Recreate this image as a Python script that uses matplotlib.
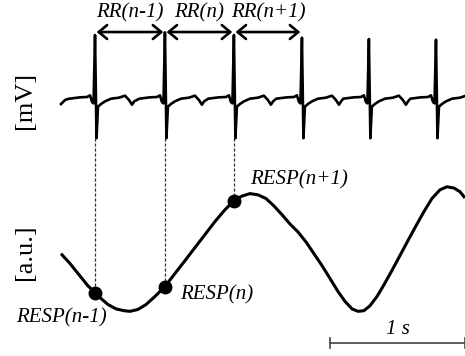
"""
ECG の R ピークと呼吸信号の対応図を再現する。
"""

import numpy as np
import matplotlib

matplotlib.use("Agg")
import matplotlib.pyplot as plt

plt.rcParams["font.family"] = ["Liberation Serif", "DejaVu Serif"]

# R ピーク時刻 [s] と振幅 [mV]
r_times = [0.252, 0.770, 1.281, 1.785, 2.281, 2.778]
r_amps = [0.97, 1.01, 0.97, 0.93, 0.91, 0.90]
s_amp = -0.57

# 1 拍分の波形 (R ピークからの相対時刻 [s], 電位 [mV])、R は None
beat_dt = [-0.19, -0.111, -0.059, -0.037, -0.022, -0.011, 0.0, 0.011,
           0.022, 0.044, 0.074, 0.119, 0.178, 0.222, 0.252, 0.274, 0.29]
beat_mv = [0.02, 0.04, 0.045, 0.07, -0.03, -0.05, None, s_amp,
           -0.10, -0.06, -0.02, 0.02, 0.035, 0.065, 0.0, -0.07, -0.02]
lead_t = [0.0, 0.03, 0.05]
lead_mv = [-0.06, 0.0, 0.015]

# 呼吸信号 [s], [a.u.]
resp_t = [0.000, 0.067, 0.141, 0.200, 0.244, 0.289, 0.348, 0.407, 0.467, 0.511,
          0.570, 0.630, 0.696, 0.770, 0.844, 0.919, 0.993, 1.067, 1.141, 1.215,
          1.289, 1.341, 1.400, 1.459, 1.519, 1.578, 1.637, 1.696, 1.756, 1.815,
          1.874, 1.933, 1.993, 2.052, 2.104, 2.156, 2.200, 2.244, 2.289, 2.341,
          2.393, 2.452, 2.511, 2.570, 2.630, 2.689, 2.748, 2.807, 2.859, 2.911,
          2.956, 2.993]
resp_v = [-0.08, -0.24, -0.44, -0.60, -0.69, -0.79, -0.90, -0.97, -1.00, -1.01,
          -0.98, -0.90, -0.77, -0.61, -0.40, -0.19, 0.02, 0.23, 0.44, 0.63,
          0.79, 0.85, 0.89, 0.87, 0.81, 0.69, 0.55, 0.40, 0.27, 0.11,
          -0.08, -0.27, -0.48, -0.69, -0.85, -0.97, -1.01, -1.00, -0.92, -0.77,
          -0.58, -0.35, -0.11, 0.13, 0.37, 0.60, 0.81, 0.95, 1.00, 0.98,
          0.92, 0.82]

rr_labels = ["RR(n-1)", "RR(n)", "RR(n+1)"]
resp_labels = ["RESP(n-1)", "RESP(n)", "RESP(n+1)"]
scale_len = 1.0  # s

# 配置
RESP_OFFSET = -2.22
RESP_SCALE = 0.925
ARROW_Y = 1.015


def build_ecg():
    t = list(lead_t)
    v = list(lead_mv)
    for rt, ra in zip(r_times, r_amps):
        for dt, mv in zip(beat_dt, beat_mv):
            t.append(rt + dt)
            v.append(ra if mv is None else mv)
    return np.array(t), np.array(v)


def main():
    fig = plt.figure(figsize=(4.65, 3.56), dpi=100)
    ax = fig.add_axes([0, 0, 1, 1])
    ax.set_xlim(-0.452, 2.993)
    ax.set_ylim(-3.821, 1.493)
    ax.axis("off")

    ecg_t, ecg_v = build_ecg()
    ax.plot(ecg_t, ecg_v, color="black", lw=1.9, solid_joinstyle="round")

    rt = np.array(resp_t)
    rv = RESP_OFFSET + RESP_SCALE * np.array(resp_v)
    ax.plot(rt, rv, color="black", lw=2.2, solid_capstyle="butt")

    # R ピーク位置の呼吸値
    pts_t = np.array(r_times[:3])
    pts_v = np.interp(pts_t, rt, rv)
    for x, y in zip(pts_t, pts_v):
        ax.plot([x, x], [s_amp, y], color="#333333", lw=0.9,
                linestyle=(0, (2.5, 1.5)))
    ax.plot(pts_t, pts_v, "o", color="black", ms=9, zorder=5)

    # RR 区間の矢印
    for i, lab in enumerate(rr_labels):
        x0, x1 = r_times[i], r_times[i + 1]
        ax.annotate("", xy=(x1, ARROW_Y), xytext=(x0, ARROW_Y),
                    arrowprops=dict(arrowstyle="<->,head_length=0.6,head_width=0.5",
                                    lw=1.9, color="black", mutation_scale=10,
                                    shrinkA=1.2, shrinkB=1.2))
        ax.text((x0 + x1) / 2, 1.30, lab, ha="center", va="center",
                fontsize=15, style="italic")

    ax.text(0.007, -3.25, resp_labels[0], ha="center", va="center",
            fontsize=15, style="italic")
    ax.text(0.881, -2.91, resp_labels[1], ha="left", va="center",
            fontsize=15, style="italic")
    ax.text(1.40, -1.19, resp_labels[2], ha="left", va="center",
            fontsize=15, style="italic")

    ax.text(-0.267, 0.0, "[mV]", rotation=90, ha="center", va="center", fontsize=19)
    ax.text(-0.267, -2.27, "[a.u.]", rotation=90, ha="center", va="center", fontsize=19)

    # スケールバー
    sx0 = 1.993
    sy = -3.627
    ax.plot([sx0, sx0 + scale_len], [sy, sy], color="#444444", lw=1.2)
    for xe in (sx0, sx0 + scale_len):
        ax.plot([xe, xe], [sy - 0.075, sy + 0.075], color="#444444", lw=1.2)
    ax.text(sx0 + scale_len / 2, -3.43, "1 s", ha="center", va="center",
            fontsize=15, style="italic")

    fig.savefig("out.png", dpi=100)
    plt.close(fig)


if __name__ == "__main__":
    main()
